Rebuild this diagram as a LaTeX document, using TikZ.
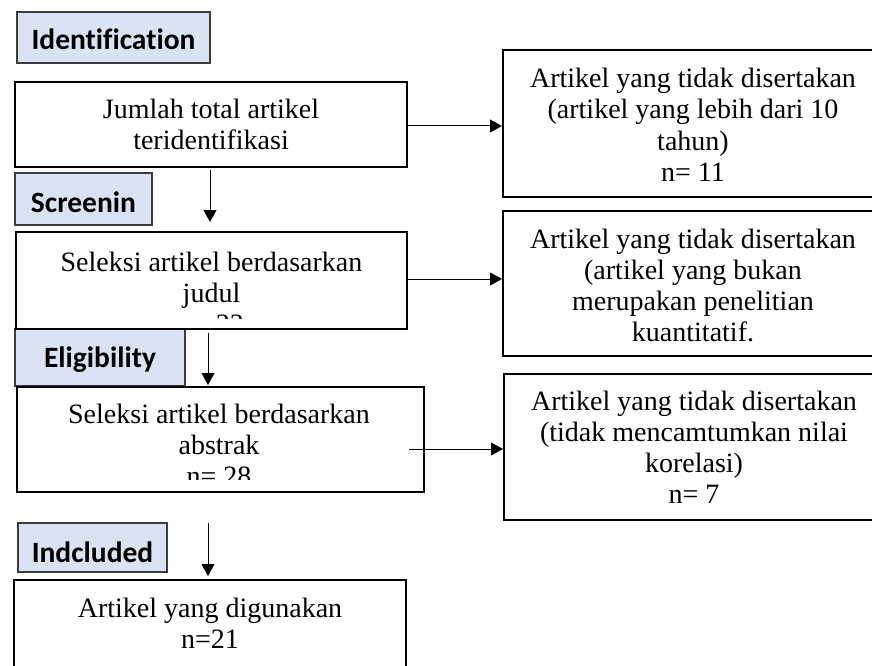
\documentclass[tikz,border=0pt]{standalone}
\usepackage{fontspec}
\setmainfont{Liberation Serif}
\newfontfamily\labfont{Carlito}[Ligatures=NoCommon]
\usetikzlibrary{arrows.meta}
\definecolor{labfill}{RGB}{218,227,243}
\definecolor{labdraw}{RGB}{60,60,60}
\tikzset{
  mainbox/.style={draw=black, line width=2pt, fill=white, inner sep=0pt, rectangle},
  labbox/.style={draw=labdraw, line width=1.2pt, fill=labfill, inner sep=0pt, rectangle},
  txt/.style={anchor=base, inner sep=0pt, font=\fontsize{28}{31}\selectfont},
  labtxt/.style={anchor=base, inner sep=0pt, font=\labfont\bfseries\fontsize{29.5}{32}\selectfont},
  arr/.style={line width=1pt, -{Triangle[length=12pt,width=13pt]}}
}
\begin{document}
\begin{tikzpicture}[x=1pt,y=-1pt]
\clip (0,0) rectangle (872,666);
\fill[white] (0,0) rectangle (872,666);
% label boxes
\node[labbox, minimum width=193pt, minimum height=51pt] (l1) at (113.5,37.5) {};
\node[labbox, minimum width=137pt, minimum height=52pt] (l2) at (83.5,199) {};
\node[labbox, minimum width=170pt, minimum height=57pt] (l3) at (100,357.5) {};
\node[labbox, minimum width=149pt, minimum height=49pt] (l4) at (92.5,547.5) {};
\node[labtxt] (l1t) at (113.5,50) {Identification};
\node[labtxt] (l2t) at (83.5,212) {Screenin};
\node[labtxt] (l3t) at (100,367) {Eligibility};
\node[labtxt] (l4t) at (92.5,562) {Indcluded};
% main boxes
\node[mainbox, minimum width=392pt, minimum height=85pt] (b1) at (211,124.5) {};
\node[mainbox, minimum width=391pt, minimum height=97pt] (b2) at (211.5,280.5) {};
\node[mainbox, minimum width=407pt, minimum height=105pt] (b3) at (220.5,439.5) {};
\node[mainbox, minimum width=392pt, minimum height=120pt] (b4) at (210,640) {};
\node[mainbox, minimum width=382pt, minimum height=147pt] (r1) at (694,123.5) {};
\node[mainbox, minimum width=382pt, minimum height=145pt] (r2) at (694,283.5) {};
\node[mainbox, minimum width=381pt, minimum height=146pt] (r3) at (694.5,447) {};
% texts
\node[txt] (b1t1) at (211,118) {Jumlah total artikel};
\node[txt] (b1t2) at (211,149) {teridentifikasi};
\begin{scope}
\clip (16,233) rectangle (407,318);
\node[txt] (b2t1) at (211.5,271) {Seleksi artikel berdasarkan};
\node[txt] (b2t2) at (211.5,302) {judul};
\node[txt] (b2t3) at (211.5,333) {n= 33};
\end{scope}
\begin{scope}
\clip (17,388) rectangle (424,479);
\node[txt] (b3t1) at (219,423) {Seleksi artikel berdasarkan};
\node[txt] (b3t2) at (219,454) {abstrak};
\node[txt] (b3t3) at (219,485) {n= 28};
\end{scope}
\node[txt] (b4t1) at (210,617) {Artikel yang digunakan};
\node[txt] (b4t2) at (210,648) {n=21};
\node[txt] (r1t1) at (693,88) {Artikel yang tidak disertakan};
\node[txt] (r1t2) at (693,119) {(artikel yang lebih dari 10};
\node[txt] (r1t3) at (693,150) {tahun)};
\node[txt] (r1t4) at (693,181) {n= 11};
\node[txt] (r2t1) at (693,248) {Artikel yang tidak disertakan};
\node[txt] (r2t2) at (693,279) {(artikel yang bukan};
\node[txt] (r2t3) at (693,310) {merupakan penelitian};
\node[txt] (r2t4) at (693,341) {kuantitatif.};
\node[txt] (r3t1) at (694,410) {Artikel yang tidak disertakan};
\node[txt] (r3t2) at (694,441) {(tidak mencamtumkan nilai};
\node[txt] (r3t3) at (694,472) {korelasi)};
\node[txt] (r3t4) at (694,503) {n= 7};
% arrows
\coordinate (a1s) at (210,170);
\coordinate (a2s) at (208,333);
\coordinate (a3s) at (208,523);
\coordinate (h3s) at (409,449);
\draw[arr] (a1s) -- ([yshift=9pt]a1s |- b2.north);
\draw[arr] (a2s) -- ([yshift=1pt]a2s |- b3.north);
\draw[arr] (a3s) -- ([yshift=3pt]a3s |- b4.north);
\draw[arr] ([yshift=-1.5pt]b1.east) -- ([yshift=-1.5pt]b1.east -| r1.west);
\draw[arr] ([yshift=1.5pt]b2.east) -- ([yshift=1.5pt]b2.east -| r2.west);
\draw[arr] (h3s) -- (h3s -| r3.west);
\end{tikzpicture}
\end{document}
